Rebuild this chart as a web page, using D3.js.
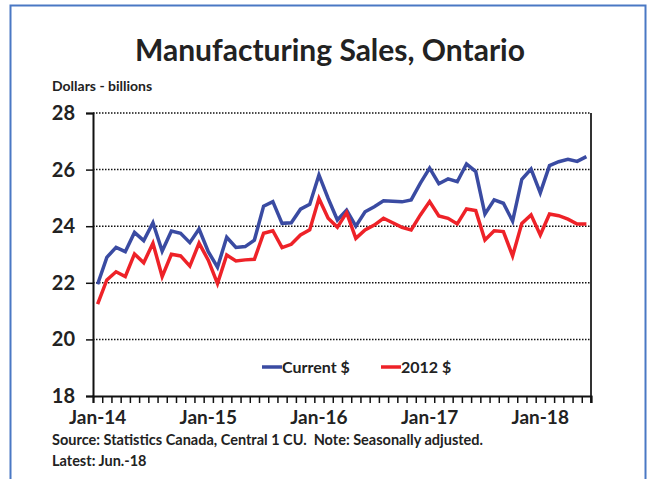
<!DOCTYPE html>
<html>
<head>
<meta charset="utf-8">
<script src="https://cdn.jsdelivr.net/npm/d3@7"></script>
<style>
  body { margin: 0; background: #fff; }
  svg text { font-family: Lato, "Open Sans", sans-serif; font-weight: bold; fill: #222; }
</style>
</head>
<body>
<svg id="chart" width="649" height="479"></svg>
<script>
  // monthly, Jan-14 .. Jun-18
  const nMonths = 54;
  const yTicks = [18, 20, 22, 24, 26, 28];
  const xLabels = ["Jan-14", "Jan-15", "Jan-16", "Jan-17", "Jan-18"];

  const current = [
    21.95, 22.90, 23.25, 23.10, 23.78, 23.49, 24.12, 23.12, 23.83, 23.75, 23.42, 23.90,
    23.10, 22.55, 23.61, 23.25, 23.28, 23.51, 24.71, 24.87, 24.10, 24.12, 24.60, 24.77,
    25.81, 24.98, 24.22, 24.57, 24.00, 24.51, 24.69, 24.90, 24.88, 24.86, 24.93, 25.52,
    26.05, 25.50, 25.67, 25.57, 26.20, 25.93, 24.43, 24.93, 24.81, 24.18, 25.66, 26.02,
    25.18, 26.14, 26.28, 26.36, 26.29, 26.46
  ];
  const real2012 = [
    21.25, 22.10, 22.39, 22.22, 23.02, 22.71, 23.40, 22.22, 23.01, 22.95, 22.59, 23.40,
    22.80, 21.97, 22.98, 22.77, 22.81, 22.83, 23.75, 23.84, 23.24, 23.36, 23.69, 23.87,
    24.98, 24.28, 23.96, 24.48, 23.57, 23.87, 24.04, 24.28, 24.12, 23.96, 23.87, 24.40,
    24.87, 24.36, 24.28, 24.08, 24.61, 24.55, 23.51, 23.84, 23.81, 22.95, 24.10, 24.40,
    23.69, 24.43, 24.37, 24.25, 24.08, 24.08
  ];

  const svg = d3.select("#chart");
  const m = { left: 93, right: 591, top: 113, bottom: 396 };

  // frame
  svg.append("rect")
    .attr("x", 10.5).attr("y", 5.5)
    .attr("width", 635).attr("height", 500)
    .attr("fill", "none").attr("stroke", "#4a78c4").attr("stroke-width", 2);

  svg.append("text")
    .attr("x", 330).attr("y", 61)
    .attr("text-anchor", "middle")
    .style("font-size", "30px")
    .text("Manufacturing Sales, Ontario");

  svg.append("text")
    .attr("x", 52).attr("y", 91)
    .style("font-size", "14px")
    .text("Dollars - billions");

  const x = d3.scaleLinear().domain([-0.5, nMonths - 0.5]).range([m.left, m.right]);
  const y = d3.scaleLinear().domain([18, 28]).range([m.bottom, m.top]);

  // gridlines
  svg.append("g")
    .selectAll("line")
    .data(yTicks.filter(d => d > 18))
    .join("line")
    .attr("x1", m.left).attr("x2", m.right)
    .attr("y1", d => y(d)).attr("y2", d => y(d))
    .attr("stroke", "#111").attr("stroke-width", 1.5)
    .attr("stroke-dasharray", "1.5,1.5");

  // right border
  svg.append("line")
    .attr("x1", m.right).attr("x2", m.right)
    .attr("y1", m.top).attr("y2", m.bottom + 7)
    .attr("stroke", "#333").attr("stroke-width", 2);

  // y axis
  const yAxis = svg.append("g")
    .attr("transform", `translate(${m.left},0)`)
    .call(d3.axisLeft(y).tickValues(yTicks).tickSize(7).tickFormat(d3.format("d")));
  yAxis.select(".domain").attr("stroke", "#111").attr("stroke-width", 2);
  yAxis.selectAll(".tick line").attr("stroke", "#111").attr("stroke-width", 1.5);
  yAxis.selectAll(".tick text")
    .attr("x", -18).attr("fill", "#222")
    .style("font-size", "20px").style("font-family", "Lato, sans-serif").style("font-weight", "bold");

  // x axis: month boundaries as ticks, labels each January
  const boundaries = d3.range(nMonths + 1).map(i => i - 0.5);
  const xAxis = svg.append("g")
    .attr("transform", `translate(0,${m.bottom})`)
    .call(d3.axisBottom(x).tickValues(boundaries).tickSize(7).tickFormat(""));
  xAxis.select(".domain").attr("stroke", "#111").attr("stroke-width", 2);
  xAxis.selectAll(".tick line").attr("stroke", "#111").attr("stroke-width", 1.5);

  svg.append("g")
    .selectAll("text")
    .data(xLabels)
    .join("text")
    .attr("x", (d, i) => x(i * 12))
    .attr("y", 424)
    .attr("text-anchor", "middle")
    .style("font-size", "19px")
    .text(d => d);

  // lines
  const line = d3.line().x((d, i) => x(i)).y(d => y(d));
  const series = [
    { name: "Current $", values: current, color: "#3a4ba2" },
    { name: "2012 $", values: real2012, color: "#ee2228" }
  ];
  svg.append("g")
    .selectAll("path")
    .data(series)
    .join("path")
    .attr("d", d => line(d.values))
    .attr("fill", "none")
    .attr("stroke", d => d.color)
    .attr("stroke-width", 3.5)
    .attr("stroke-linejoin", "miter");

  // legend
  const legX = [262, 381];
  const leg = svg.append("g")
    .selectAll("g")
    .data(series)
    .join("g")
    .attr("transform", (d, i) => `translate(${legX[i]},367)`);
  leg.append("line")
    .attr("x1", 0).attr("x2", 20)
    .attr("stroke", d => d.color).attr("stroke-width", 3.5);
  leg.append("text")
    .attr("x", 20).attr("y", 6)
    .style("font-size", "16px")
    .text(d => d.name);

  svg.append("text")
    .attr("x", 52).attr("y", 445)
    .attr("xml:space", "preserve")
    .style("font-size", "14.5px")
    .text("Source: Statistics Canada, Central 1 CU.  Note: Seasonally adjusted.");
  svg.append("text")
    .attr("x", 52).attr("y", 466)
    .style("font-size", "14.5px")
    .text("Latest: Jun.-18");
</script>
</body>
</html>
